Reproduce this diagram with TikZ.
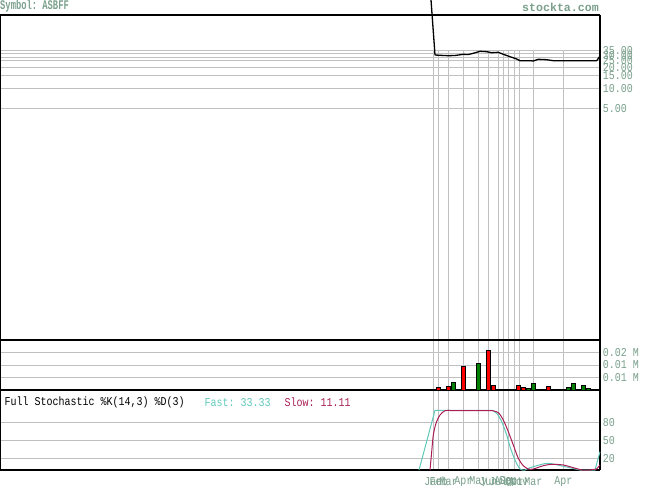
\documentclass[tikz,border=0pt]{standalone}
\usepackage{fontspec}
\setmonofont{Liberation Mono}
\usepackage{graphicx}
\definecolor{axt}{RGB}{122,160,140}
\definecolor{gridc}{RGB}{192,192,192}
\definecolor{fastc}{RGB}{95,200,185}
\definecolor{slowc}{RGB}{170,30,85}
\definecolor{volred}{RGB}{255,0,0}
\definecolor{volgreen}{RGB}{0,128,0}
\newcommand{\ytxt}[1]{\scalebox{1}[1.2]{#1}}
\tikzset{
  gridline/.style={draw=gridc, line width=1pt},
  framel/.style={draw=black, line width=1.2pt},
  axlabel/.style={anchor=west, inner sep=0pt, text=axt, font=\fontsize{10}{10}\ttfamily},
  monlabel/.style={anchor=center, inner sep=0pt, text=axt, font=\fontsize{10}{10}\ttfamily},
  redbar/.style={draw=black, fill=volred, line width=0.8pt},
  greenbar/.style={draw=black, fill=volgreen, line width=0.8pt},
  headtxt/.style={anchor=west, inner sep=0pt, font=\fontsize{10}{10}\ttfamily},
}
\begin{document}
\begin{tikzpicture}[x=1pt,y=-1pt]
\useasboundingbox (0,0) rectangle (655,486);
% horizontal grid: price
\foreach \y in {50.7,53.5,57.5,61,67.6,75.5,88.3,109}
  \draw[gridline] (0,\y) -- (600,\y);
% volume grid
\foreach \y in {352.7,365,377.3}
  \draw[gridline] (0,\y) -- (600,\y);
% stochastic grid
\foreach \y in {422.3,440.5,458.2}
  \draw[gridline] (0,\y) -- (600,\y);
% vertical grid
\foreach \x in {433.3,438.7,448.7,463.3,478.3,488.3,498.3,503.3,508,514.3,519.2,533.3,563.3}
  \draw[gridline] (\x,50.7) -- (\x,470);
% frame
\draw[framel] (0,15) -- (600,15);
\draw[framel] (0.6,15) -- (0.6,470);
\draw[framel] (600,15) -- (600,470);
\draw[framel] (0,470) -- (600,470);
\draw[framel] (0,340) -- (600,340);
\draw[framel] (0,390) -- (600,390);
\draw[draw=black, line width=1.8pt] (431,389.6) -- (600,389.6);
% volume bars
\foreach \x/\t/\c in {436/387.3/red,446.3/386.3/red,451/382.3/green,461.3/366/red,476.3/363/green,486.3/350.3/red,491.3/385/red,516.3/385/red,521.3/387.3/red,526.3/388.3/green,531/383/green,546/386/red,566/387.3/green,571/383/green,581/385/green,586/388.3/green}
  \draw[\c bar] (\x,390) rectangle ({\x+4.4},\t);
% price line
\draw[black, line width=1.3pt, line join=round]
  (431,0) -- (435,55) -- (440,55.3) -- (448.3,55.7) -- (455,55.5) -- (463.3,54.3) -- (468,54.6) -- (473.3,53.3) -- (480,51.3) -- (486.7,51.7) -- (491.7,52.7) -- (498.3,52.3) -- (503.3,54.3) -- (510,56.7) -- (516.7,59) -- (520,60.7) -- (530,60.7) -- (533.3,61) -- (538.3,59.3) -- (546.7,59.7) -- (553.3,60.7) -- (596.7,60.7) -- (600,56);
% stochastic fast
\draw[fastc, line width=1pt] (419,470) -- (435,410.3) -- (491.7,410.3)
  plot[smooth, tension=0.5] coordinates {(491.7,410.3) (496.7,413.3) (501.7,421.7) (506.7,435) (510,446.7) (515,460) (520,469) (525,470) (528.3,468.3) (536.7,465.7) (546.7,463.3) (553.3,464) (563.3,466.3) (580,470)}
  -- (595,470) -- (600,451.7);
% stochastic slow
\draw[slowc, line width=1pt]
  plot[smooth, tension=0.5] coordinates {(430,470) (431.7,451.7) (433.3,435) (436,423.3) (440,415) (445,410.7) (450,410.5)}
  -- (491.7,410.5)
  plot[smooth, tension=0.5] coordinates {(491.7,410.5) (498.3,412.7) (503.3,420) (508.3,431.7) (513.3,445) (518.3,458.3) (523.3,465.7) (528.3,469) (533.3,469) (543.3,465.7) (551.7,464.3) (563.3,465) (573.3,467.7) (581.7,470)}
  -- (590,470) -- (596.7,469) -- (600,465);
% titles
\node[anchor=west, inner sep=0pt, text=axt, font=\fontsize{8.8}{9}\ttfamily\bfseries] (sym) at (0,6.2) {\scalebox{1}[1.5]{Symbol: ASBFF}};
\node[anchor=east, inner sep=0pt, text=axt, font=\fontsize{11.6}{12}\ttfamily\bfseries] (site) at (599,7) {stockta.com};
% price labels
\foreach \y/\l [count=\i] in {50.7/35.00,55.3/30.00,60.8/25.00,67.5/20.00,75.5/15.00,88.3/10.00,109/5.00}
  \node[axlabel] (pl\i) at (602.7,\y) {\ytxt{\l}};
% volume labels
\foreach \y/\l [count=\i] in {352.7/0.02 M,365/0.01 M,377.3/0.01 M}
  \node[axlabel] (vl\i) at (602.7,\y) {\ytxt{\l}};
% stochastic labels
\foreach \y/\l [count=\i] in {422.3/80,440.5/50,458.2/20}
  \node[axlabel] (sl\i) at (602.7,\y) {\ytxt{\l}};
% header
\node[headtxt] (sthead) at (4.5,402.5) {\ytxt{Full Stochastic \%K(14,3) \%D(3)}};
\node[headtxt, text=fastc] (fastl) at (204.5,402.5) {\ytxt{Fast: 33.33}};
\node[headtxt, text=slowc] (slowl) at (284.5,402.5) {\ytxt{Slow:\ 11.11}};
% months
\foreach \x/\m [count=\i] in {433.3/Jan,438.7/Feb,448.7/Mar,463.3/Apr,478.3/May,488.3/Jun,498.3/Jul,503.3/Aug,508/Sep,514.3/Oct,519.2/Nov,533.3/Mar,563.3/Apr}
  \node[monlabel] (m\i) at (\x,481.7) {\ytxt{\m}};
\end{tikzpicture}
\end{document}
